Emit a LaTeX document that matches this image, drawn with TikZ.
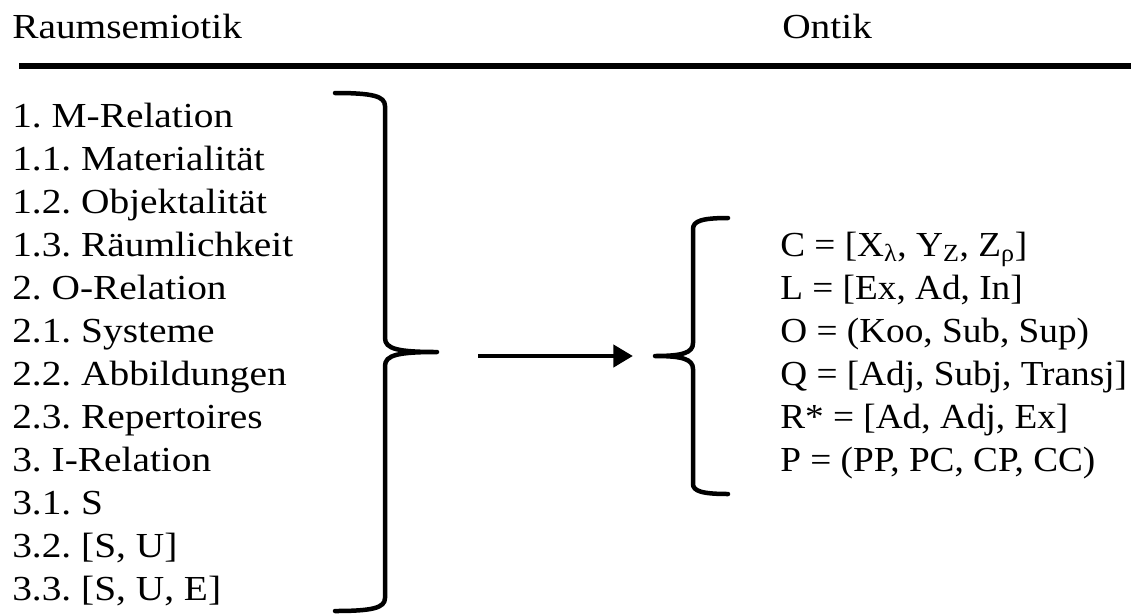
\documentclass[tikz,border=0pt]{standalone}
\usepackage{fontspec}
\setmainfont{Liberation Serif}[FakeStretch=1.12]
\newfontfamily\ontikfont{Liberation Serif}[FakeStretch=1.06]
\usepackage{tikz}
\usetikzlibrary{arrows.meta}

\tikzset{
  entry/.style={anchor=base west, inner sep=0pt, font=\fontsize{25}{28}\selectfont},
  formula/.style={entry, font=\fontsize{25}{28}\selectfont\ontikfont},
  bracket/.style={line width=3.2pt, line cap=round, line join=round},
}

\begin{document}
\frenchspacing
\begin{tikzpicture}[x=0.025cm, y=-0.025cm]
    \useasboundingbox (0,0) rectangle (1131,614);

    % headings and rule
    \node[entry] (semiotik) at (12,38) {Raumsemiotik};
    \node[entry] (ontik) at (782,38) {Ontik};
    \draw[line width=4.2pt] (19,66) -- (1131,66);

    % left list
    \foreach \txt [count=\i from 0] in {1. M-Relation, 1.1. Materialität, 1.2. Objektalität,
        1.3. Räumlichkeit, 2. O-Relation, 2.1. Systeme, 2.2. Abbildungen, 2.3. Repertoires,
        3. I-Relation, 3.1. S, {3.2. [S, U]}, {3.3. [S, U, E]}}
      \node[entry] (sem\i) at (12,127+43*\i) {\txt};

    % right list
    \node[formula] (ontC) at (780,256) {C = [X\textsubscript{λ}, Y\textsubscript{Z}, Z\textsubscript{ρ}]};
    \node[formula] (ontL) at (780,299) {L = [Ex, Ad, In]};
    \node[formula] (ontO) at (780,342) {O = (Koo, Sub, Sup)};
    \node[formula] (ontQ) at (780,385) {Q = [Adj, Subj, Transj]};
    \node[formula] (ontR) at (780,428) {R* = [Ad, Adj, Ex]};
    \node[formula] (ontP) at (780,471) {P = (PP, PC, CP, CC)};

    % braces
    \draw[bracket] (335,93) .. controls (372,93) and (385,96) .. (385,106) -- (385,338)
      .. controls (385,349) and (398,352) .. (437,352)
      .. controls (398,352) and (385,355) .. (385,366) -- (385,598)
      .. controls (385,608) and (372,611) .. (335,611);
    \draw[bracket] (728,218) .. controls (702,218) and (693,221) .. (693,229) -- (693,343)
      .. controls (693,353) and (682,356) .. (655,356)
      .. controls (682,356) and (693,359) .. (693,369) -- (693,484)
      .. controls (693,491) and (702,494) .. (728,494);

    % arrow
    \coordinate (arrstart) at (478,356);
    \coordinate (arrend) at (633,356);
    \draw[line width=3.5pt, -{Triangle[length=14pt, width=15.5pt]}] (arrstart) -- (arrend);
\end{tikzpicture}
\end{document}
